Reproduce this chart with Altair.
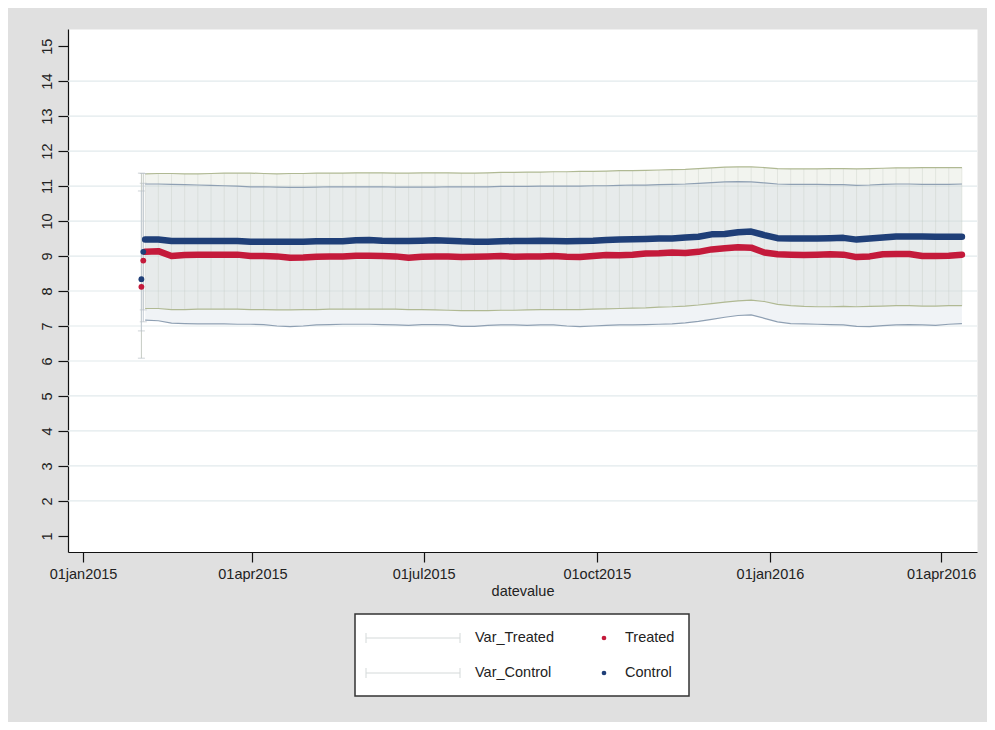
import altair as alt
import pandas as pd

# ---------------- data ----------------
week_dates = pd.date_range("2015-02-03", "2016-04-12", freq="7D").strftime("%Y-%m-%d").tolist()

control = [9.47, 9.47, 9.43, 9.43, 9.43, 9.43, 9.43, 9.43, 9.41, 9.41, 9.41, 9.41, 9.41, 9.42, 9.42, 9.42,
           9.45, 9.46, 9.44, 9.43, 9.43, 9.44, 9.45, 9.44, 9.42, 9.41, 9.41, 9.42, 9.43, 9.43, 9.44,
           9.43, 9.42, 9.43, 9.44, 9.46, 9.47, 9.48, 9.49, 9.50, 9.50, 9.53, 9.55, 9.62, 9.63, 9.68, 9.70,
           9.60, 9.51, 9.50, 9.50, 9.50, 9.51, 9.52, 9.47, 9.50, 9.53, 9.56, 9.56, 9.56, 9.55, 9.55, 9.55]

treated = [9.12, 9.14, 9.00, 9.03, 9.04, 9.04, 9.04, 9.04, 9.00, 9.00, 8.99, 8.95, 8.96, 8.98, 8.99, 8.99,
           9.01, 9.01, 9.00, 8.99, 8.95, 8.98, 8.99, 8.99, 8.97, 8.98, 8.99, 9.00, 8.98, 8.99, 8.99,
           9.00, 8.98, 8.97, 9.00, 9.03, 9.02, 9.04, 9.07, 9.08, 9.10, 9.09, 9.12, 9.19, 9.22, 9.25, 9.24,
           9.10, 9.05, 9.04, 9.03, 9.04, 9.05, 9.04, 8.97, 8.99, 9.05, 9.06, 9.06, 9.00, 9.00, 9.01, 9.04]

t_hi = [11.35, 11.36, 11.36, 11.35, 11.35, 11.36, 11.37, 11.37, 11.37, 11.36, 11.35, 11.36, 11.36, 11.37, 11.37, 11.37,
        11.38, 11.38, 11.38, 11.37, 11.37, 11.38, 11.38, 11.38, 11.37, 11.37, 11.38, 11.39, 11.39, 11.40, 11.40,
        11.41, 11.41, 11.42, 11.42, 11.43, 11.44, 11.44, 11.45, 11.46, 11.47, 11.48, 11.50, 11.52, 11.54, 11.55, 11.55,
        11.53, 11.50, 11.49, 11.49, 11.49, 11.50, 11.50, 11.49, 11.50, 11.51, 11.52, 11.52, 11.53, 11.53, 11.53, 11.53]

t_lo = [7.50, 7.50, 7.47, 7.47, 7.48, 7.48, 7.48, 7.48, 7.47, 7.47, 7.46, 7.46, 7.47, 7.47, 7.48, 7.48,
        7.48, 7.48, 7.48, 7.48, 7.47, 7.47, 7.46, 7.45, 7.44, 7.44, 7.44, 7.45, 7.45, 7.46, 7.47,
        7.47, 7.47, 7.47, 7.48, 7.49, 7.50, 7.51, 7.52, 7.54, 7.55, 7.57, 7.60, 7.64, 7.68, 7.72, 7.74,
        7.70, 7.62, 7.58, 7.56, 7.55, 7.55, 7.56, 7.55, 7.56, 7.57, 7.58, 7.58, 7.57, 7.57, 7.58, 7.58]

c_hi = [11.06, 11.06, 11.05, 11.04, 11.03, 11.02, 11.01, 11.00, 10.98, 10.98, 10.97, 10.96, 10.96, 10.97, 10.98, 10.98,
        10.98, 10.98, 10.98, 10.97, 10.97, 10.97, 10.97, 10.98, 10.98, 10.98, 10.98, 10.99, 10.99, 10.99, 11.00,
        11.00, 11.00, 11.00, 11.01, 11.01, 11.02, 11.03, 11.03, 11.04, 11.05, 11.06, 11.08, 11.10, 11.12, 11.13, 11.12,
        11.09, 11.06, 11.05, 11.05, 11.05, 11.04, 11.04, 11.02, 11.03, 11.05, 11.06, 11.06, 11.05, 11.05, 11.05, 11.06]

c_lo = [7.17, 7.15, 7.08, 7.07, 7.06, 7.06, 7.06, 7.05, 7.05, 7.04, 7.00, 6.98, 7.00, 7.03, 7.04, 7.05,
        7.05, 7.05, 7.04, 7.03, 7.02, 7.04, 7.04, 7.03, 6.99, 6.99, 7.02, 7.03, 7.03, 7.02, 7.03,
        7.03, 7.00, 6.98, 7.00, 7.02, 7.03, 7.03, 7.04, 7.05, 7.06, 7.09, 7.13, 7.19, 7.25, 7.30, 7.32,
        7.22, 7.12, 7.07, 7.06, 7.05, 7.04, 7.03, 6.99, 6.98, 7.01, 7.03, 7.04, 7.03, 7.02, 7.05, 7.07]

# first two days, drawn as separate dots with their own bars
early_dates = ["2015-02-01", "2015-02-02"]
early_control = [8.34, 9.12]
early_treated = [8.12, 8.87]
early_t_lo = [6.08, 7.46]
early_t_hi = [11.37, 11.36]
early_c_lo = [6.86, 7.12]
early_c_hi = [10.86, 11.08]

y_ticks = list(range(1, 16))
grid_values = list(range(2, 15))
x_tick_dates = [(2015, 1), (2015, 4), (2015, 7), (2015, 10), (2016, 1), (2016, 4)]
legend_labels = ["Var_Treated", "Var_Control", "Treated", "Control"]
x_title = "datevalue"

# ---------------- styling ----------------
RED = "#c41a3b"
BLUE = "#1f3f78"
OLIVE = "#b0b993"
SLATE = "#8fa0b3"
FONT = "Liberation Sans"

week = pd.DataFrame({"date": week_dates, "control": control, "treated": treated,
                     "t_hi": t_hi, "t_lo": t_lo, "c_hi": c_hi, "c_lo": c_lo})
early = pd.DataFrame({"date": early_dates, "control": early_control, "treated": early_treated,
                      "t_hi": early_t_hi, "t_lo": early_t_lo, "c_hi": early_c_hi, "c_lo": early_c_lo})
grid_df = pd.DataFrame({"g": grid_values})

x_scale = alt.Scale(type="utc",
                    domain=[alt.DateTime(year=2014, month=12, date=24, utc=True),
                            alt.DateTime(year=2016, month=4, date=20, utc=True)])
x_axis = alt.Axis(values=[alt.DateTime(year=y, month=m, date=1, utc=True) for y, m in x_tick_dates],
                  labelExpr="lower(utcFormat(datum.value, '%d%b%Y'))",
                  title=x_title, grid=False, tickSize=10, labelPadding=5, titlePadding=4,
                  labelOverlap=False, labelFlush=False)
y_scale = alt.Scale(domain=[0.54, 15.49], nice=False, zero=False)
y_axis = alt.Axis(values=y_ticks, labelAngle=270, labelAlign="center", labelBaseline="bottom",
                  tickSize=10, labelPadding=4, title="", grid=False)

X = alt.X("date:T", scale=x_scale, axis=x_axis)


def Y(field):
    return alt.Y(f"{field}:Q", scale=y_scale, axis=y_axis)


grid = alt.Chart(grid_df).mark_rule(color="#e2eaec", strokeWidth=1.2).encode(
    y=alt.Y("g:Q", scale=y_scale, axis=y_axis))

band_t = alt.Chart(week).mark_area(color="#d6dccd", opacity=0.32).encode(
    x=X, y=Y("t_lo"), y2="t_hi:Q")
band_c = alt.Chart(week).mark_area(color="#d0dae2", opacity=0.32).encode(
    x=X, y=Y("c_lo"), y2="c_hi:Q")

hatch_t = alt.Chart(week).mark_rule(color="#bcc4bb", opacity=0.3, strokeWidth=1).encode(
    x=X, y=Y("t_lo"), y2="t_hi:Q")

edge_layers = []
for fld, col in [("t_hi", OLIVE), ("t_lo", OLIVE), ("c_hi", SLATE), ("c_lo", SLATE)]:
    edge_layers.append(alt.Chart(week).mark_line(color=col, strokeWidth=1.2).encode(x=X, y=Y(fld)))

early_bar_t = alt.Chart(early).mark_rule(color="#c5cbc3", strokeWidth=1).encode(x=X, y=Y("t_lo"), y2="t_hi:Q")
early_bar_c = alt.Chart(early).mark_rule(color="#c3ccd4", strokeWidth=1).encode(x=X, y=Y("c_lo"), y2="c_hi:Q")
early_caps = []
for fld in ["t_lo", "t_hi", "c_lo", "c_hi"]:
    early_caps.append(alt.Chart(early).mark_tick(orient="horizontal", size=7, thickness=1, color="#b9c1c6")
                      .encode(x=X, y=Y(fld)))

line_c = alt.Chart(week).mark_line(color=BLUE, strokeWidth=6.5, strokeCap="round", strokeJoin="round").encode(
    x=X, y=Y("control"))
line_t = alt.Chart(week).mark_line(color=RED, strokeWidth=6.5, strokeCap="round", strokeJoin="round").encode(
    x=X, y=Y("treated"))
dots_c = alt.Chart(early).mark_circle(color=BLUE, size=34, opacity=1).encode(x=X, y=Y("control"))
dots_t = alt.Chart(early).mark_circle(color=RED, size=34, opacity=1).encode(x=X, y=Y("treated"))

# ---------------- legend (drawn by hand, below the plot) ----------------
leg_df = pd.DataFrame({"label": legend_labels})
box = alt.Chart(leg_df.head(1)).mark_rect(fill="white", stroke="#333333", strokeWidth=1.5).encode(
    x=alt.value(287), x2=alt.value(621), y=alt.value(585), y2=alt.value(667))

legend_layers = [box]
for row, ly in [(0, 609), (1, 644)]:
    d = leg_df.iloc[[row]]
    legend_layers.append(alt.Chart(d).mark_rule(color="#d4d9d9", strokeWidth=1).encode(
        x=alt.value(298), x2=alt.value(392), y=alt.value(ly)))
    for cx in (298, 392):
        legend_layers.append(alt.Chart(d).mark_rule(color="#d4d9d9", strokeWidth=1).encode(
            x=alt.value(cx), y=alt.value(ly - 5), y2=alt.value(ly + 5)))
    legend_layers.append(alt.Chart(d).mark_text(align="left", baseline="middle", font=FONT, fontSize=14.5,
                                                color="#222222").encode(
        x=alt.value(407), y=alt.value(ly), text="label:N"))
for row, ly, col in [(2, 609, RED), (3, 644, BLUE)]:
    d = leg_df.iloc[[row]]
    legend_layers.append(alt.Chart(d).mark_circle(color=col, size=22, opacity=1).encode(
        x=alt.value(536), y=alt.value(ly)))
    legend_layers.append(alt.Chart(d).mark_text(align="left", baseline="middle", font=FONT, fontSize=14.5,
                                                color="#222222").encode(
        x=alt.value(557), y=alt.value(ly), text="label:N"))

chart = alt.layer(
    grid, band_t, band_c, hatch_t, *edge_layers, early_bar_t, early_bar_c, *early_caps,
    line_c, line_t, dots_c, dots_t, *legend_layers
).properties(
    width=909, height=523,
    padding={"left": 60, "top": 21, "right": 10, "bottom": 170},
    autosize=alt.AutoSizeParams(type="none"),
    background="#e0e0e0",
).configure_view(
    fill="white", stroke="transparent"
).configure_axis(
    labelFont=FONT, titleFont=FONT, labelFontSize=14.5, titleFontSize=14.5,
    labelColor="#222222", titleColor="#222222", titleFontWeight="normal",
    domainColor="#111111", tickColor="#111111", domainWidth=1.2, tickWidth=1.2
)

chart.save("out.html", embed_options={"renderer": "svg", "actions": False})
